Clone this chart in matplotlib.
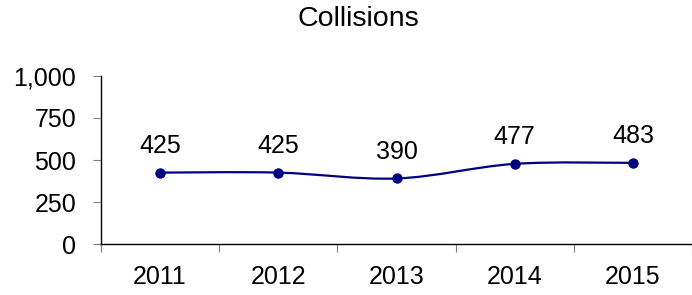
import matplotlib.pyplot as plt
import matplotlib.ticker as mticker
from matplotlib.path import Path
from matplotlib.patches import PathPatch

plt.rcParams["font.family"] = ["Liberation Sans", "DejaVu Sans"]

years = ["2011", "2012", "2013", "2014", "2015"]
collisions = [425, 425, 390, 477, 483]

line_color = "#000080"

fig = plt.figure(figsize=(6.92, 2.95), dpi=100)
ax = fig.add_axes([101 / 692, 51 / 295, 591 / 692, 168 / 295])

x = list(range(1, len(years) + 1))

# smoothed line like a spreadsheet "smooth line" (cubic bezier through points)
verts = [(x[0], collisions[0])]
codes = [Path.MOVETO]
n = len(x)
for i in range(n - 1):
    p0 = (x[max(i - 1, 0)], collisions[max(i - 1, 0)])
    p1 = (x[i], collisions[i])
    p2 = (x[i + 1], collisions[i + 1])
    p3 = (x[min(i + 2, n - 1)], collisions[min(i + 2, n - 1)])
    c1 = (p1[0] + (p2[0] - p0[0]) / 6, p1[1] + (p2[1] - p0[1]) / 6)
    c2 = (p2[0] - (p3[0] - p1[0]) / 6, p2[1] - (p3[1] - p1[1]) / 6)
    verts += [c1, c2, p2]
    codes += [Path.CURVE4] * 3
ax.add_patch(PathPatch(Path(verts, codes), facecolor="none",
                       edgecolor=line_color, linewidth=1.6, zorder=2))
ax.plot(x, collisions, linestyle="none", marker="o", markersize=6.5,
        color=line_color, zorder=3)

for xi, v in zip(x, collisions):
    ax.annotate(str(v), (xi, v), xytext=(0, 14), textcoords="offset points",
                ha="center", va="baseline", fontsize=18)

ax.set_xlim(0.5, len(years) + 0.5)
ax.set_ylim(0, 1000)
ax.set_yticks([0, 250, 500, 750, 1000])
ax.yaxis.set_major_formatter(mticker.FuncFormatter(lambda v, _: f"{int(v):,}"))
ax.set_xticks(x)
ax.set_xticklabels(years)
ax.set_xticks([i + 0.5 for i in range(len(years) + 1)], minor=True)

ax.tick_params(axis="x", which="major", length=0, pad=15, labelsize=18)
ax.tick_params(axis="x", which="minor", length=6, width=0.8, color="#808080")
ax.tick_params(axis="y", length=6, width=0.8, color="#808080", pad=12, labelsize=18)

for s in ["top", "right"]:
    ax.spines[s].set_visible(False)
for s in ["left", "bottom"]:
    ax.spines[s].set_linewidth(1.0)
    ax.spines[s].set_color("black")

fig.text(358 / 692, 1 - 6 / 295, "Collisions", ha="center", va="top", fontsize=20.5)

fig.savefig("out.png", dpi=100)
